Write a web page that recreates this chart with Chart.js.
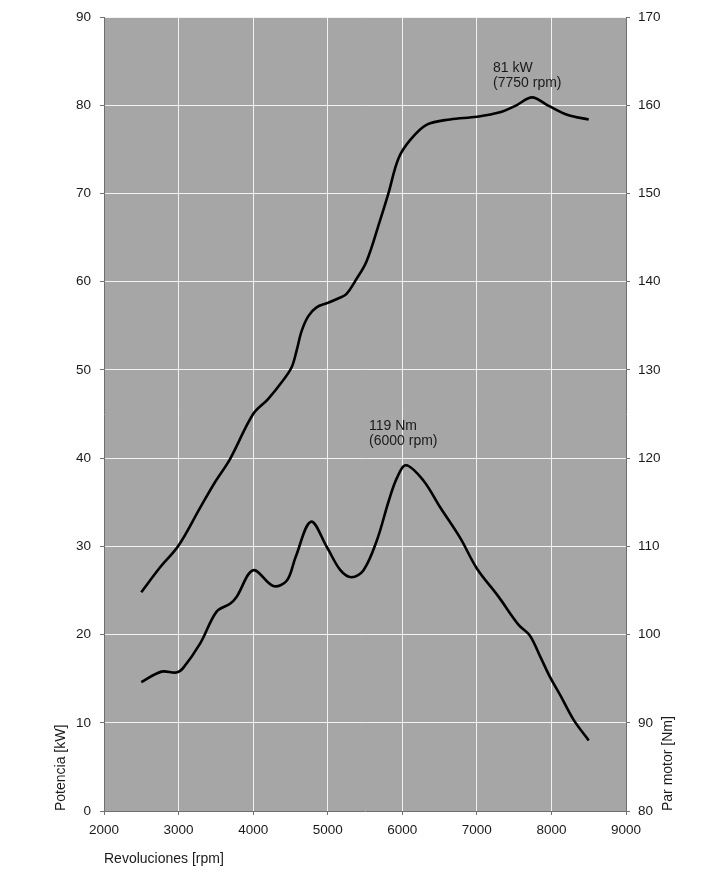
<!DOCTYPE html>
<html>
<head>
<meta charset="utf-8">
<script src="https://cdn.jsdelivr.net/npm/chart.js@4/dist/chart.umd.min.js"></script>
<style>
html,body{margin:0;padding:0;background:#fff;}
#wrap{width:715px;height:875px;position:relative;}
</style>
</head>
<body>
<div id="wrap"><canvas id="c"></canvas></div>
<script>
// Power curve (kW, left axis)
const powerRpm = [2500, 2750, 3000, 3290, 3490, 3690, 4000, 4200, 4400, 4516, 4583, 4650, 4740, 4850, 5000, 5140, 5250, 5370, 5520, 5700, 5810, 5950, 6110, 6330, 6640, 7000, 7310, 7530, 7740, 7950, 8220, 8500];
const powerKw  = [24.8, 27.6, 30.1, 34.4, 37.3, 39.9, 45.0, 46.7, 48.8, 50.3, 52.2, 54.4, 56.1, 57.1, 57.6, 58.1, 58.6, 60.1, 62.3, 66.9, 69.9, 74.0, 76.1, 77.8, 78.4, 78.7, 79.2, 80.0, 80.9, 80.0, 78.9, 78.4];

// Torque curve (Nm, right axis)
const torqueRpm = [2500, 2770, 2970, 3060, 3290, 3510, 3690, 3780, 4000, 4270, 4450, 4570, 4775, 4990, 5170, 5320, 5480, 5660, 5820, 5930, 6050, 6280, 6510, 6780, 7000, 7290, 7560, 7710, 7850, 7980, 8120, 8300, 8500];
const torqueNm  = [94.6, 95.8, 95.7, 96.2, 99.0, 102.6, 103.5, 104.3, 107.3, 105.5, 106.1, 108.8, 112.8, 109.9, 107.3, 106.5, 107.3, 110.7, 115.2, 117.8, 119.2, 117.5, 114.4, 110.9, 107.5, 104.3, 101.1, 99.9, 97.5, 95.2, 93.1, 90.3, 88.0];

// Axis ranges / ticks
const xRange = [2000, 9000];
const powerRange = [0, 90];
const torqueRange = [80, 170];
const tickStepX = 1000;
const tickStepY = 10;

// Titles
const xTitle = 'Revoluciones [rpm]';
const yTitle = 'Potencia [kW]';
const y1Title = 'Par motor [Nm]';

// Annotations: text lines, anchor [rpm, value]
const annotPowerLines = ['81 kW', '(7750 rpm)'];
const annotPowerAt = [7217, 84.2];
const annotTorqueLines = ['119 Nm', '(6000 rpm)'];
const annotTorqueAt = [5554, 123.6];

const FONT = '"Liberation Sans", Arial, sans-serif';
const TXT = '#1a1a1a';

const toPts = (xs, ys) => xs.map((x, i) => ({x: x, y: ys[i]}));

const bgPlugin = {
  id: 'bg',
  beforeDraw(chart) {
    const {ctx, chartArea: a} = chart;
    ctx.save();
    ctx.fillStyle = '#a6a6a6';
    ctx.fillRect(a.left, a.top, a.right - a.left, a.bottom - a.top);
    ctx.restore();
  }
};

const textPlugin = {
  id: 'texts',
  afterDraw(chart) {
    const {ctx, chartArea: a, scales} = chart;
    ctx.save();
    ctx.fillStyle = TXT;
    ctx.font = '14px ' + FONT;
    ctx.textBaseline = 'middle';
    const drawAnn = (lines, at, axis) => {
      const px = scales.x.getPixelForValue(at[0]);
      const py = scales[axis].getPixelForValue(at[1]);
      ctx.textAlign = 'left';
      lines.forEach((t, i) => ctx.fillText(t, px, py + i * 15));
    };
    drawAnn(annotPowerLines, annotPowerAt, 'y');
    drawAnn(annotTorqueLines, annotTorqueAt, 'y1');
    ctx.textAlign = 'left';
    ctx.fillText(xTitle, a.left, 859);
    ctx.save();
    ctx.translate(61, a.bottom);
    ctx.rotate(-Math.PI / 2);
    ctx.fillText(yTitle, 0, 0);
    ctx.restore();
    ctx.save();
    ctx.translate(668, a.bottom);
    ctx.rotate(-Math.PI / 2);
    ctx.fillText(y1Title, 0, 0);
    ctx.restore();
    ctx.restore();
  }
};

const gridCol = 'rgba(255,255,255,0.85)';
const tickCol = '#707070';
const tickFont = {family: FONT, size: 13.5};

new Chart(document.getElementById('c'), {
  type: 'line',
  data: {
    datasets: [
      {
        label: 'Potencia',
        data: toPts(powerRpm, powerKw),
        yAxisID: 'y',
        borderColor: '#000',
        borderWidth: 2.6,
        pointRadius: 0,
        fill: false,
        tension: 0.35
      },
      {
        label: 'Par motor',
        data: toPts(torqueRpm, torqueNm),
        yAxisID: 'y1',
        borderColor: '#000',
        borderWidth: 2.6,
        pointRadius: 0,
        fill: false,
        tension: 0.35
      }
    ]
  },
  options: {
    responsive: true,
    maintainAspectRatio: false,
    animation: false,
    layout: {padding: {top: 16, left: 0, right: 0, bottom: 0}},
    plugins: {legend: {display: false}, tooltip: {enabled: false}},
    scales: {
      x: {
        type: 'linear',
        min: xRange[0], max: xRange[1],
        afterFit(s) { s.height = 64; },
        grid: {color: gridCol, lineWidth: 1, tickColor: tickCol, tickLength: 4},
        border: {color: tickCol, width: 1},
        ticks: {stepSize: tickStepX, color: TXT, font: tickFont, padding: 7,
                maxRotation: 0, callback: v => String(v)}
      },
      y: {
        position: 'left',
        min: powerRange[0], max: powerRange[1],
        afterFit(s) { s.width = 104; },
        grid: {color: gridCol, lineWidth: 1, tickColor: tickCol, tickLength: 4},
        border: {color: tickCol, width: 1},
        ticks: {stepSize: tickStepY, color: TXT, font: tickFont, padding: 9,
                callback: v => String(v)}
      },
      y1: {
        position: 'right',
        min: torqueRange[0], max: torqueRange[1],
        afterFit(s) { s.width = 89; },
        grid: {drawOnChartArea: false, tickColor: tickCol, tickLength: 4},
        border: {color: tickCol, width: 1},
        ticks: {stepSize: tickStepY, color: TXT, font: tickFont, padding: 8,
                callback: v => String(v)}
      }
    }
  },
  plugins: [bgPlugin, textPlugin]
});
</script>
</body>
</html>
